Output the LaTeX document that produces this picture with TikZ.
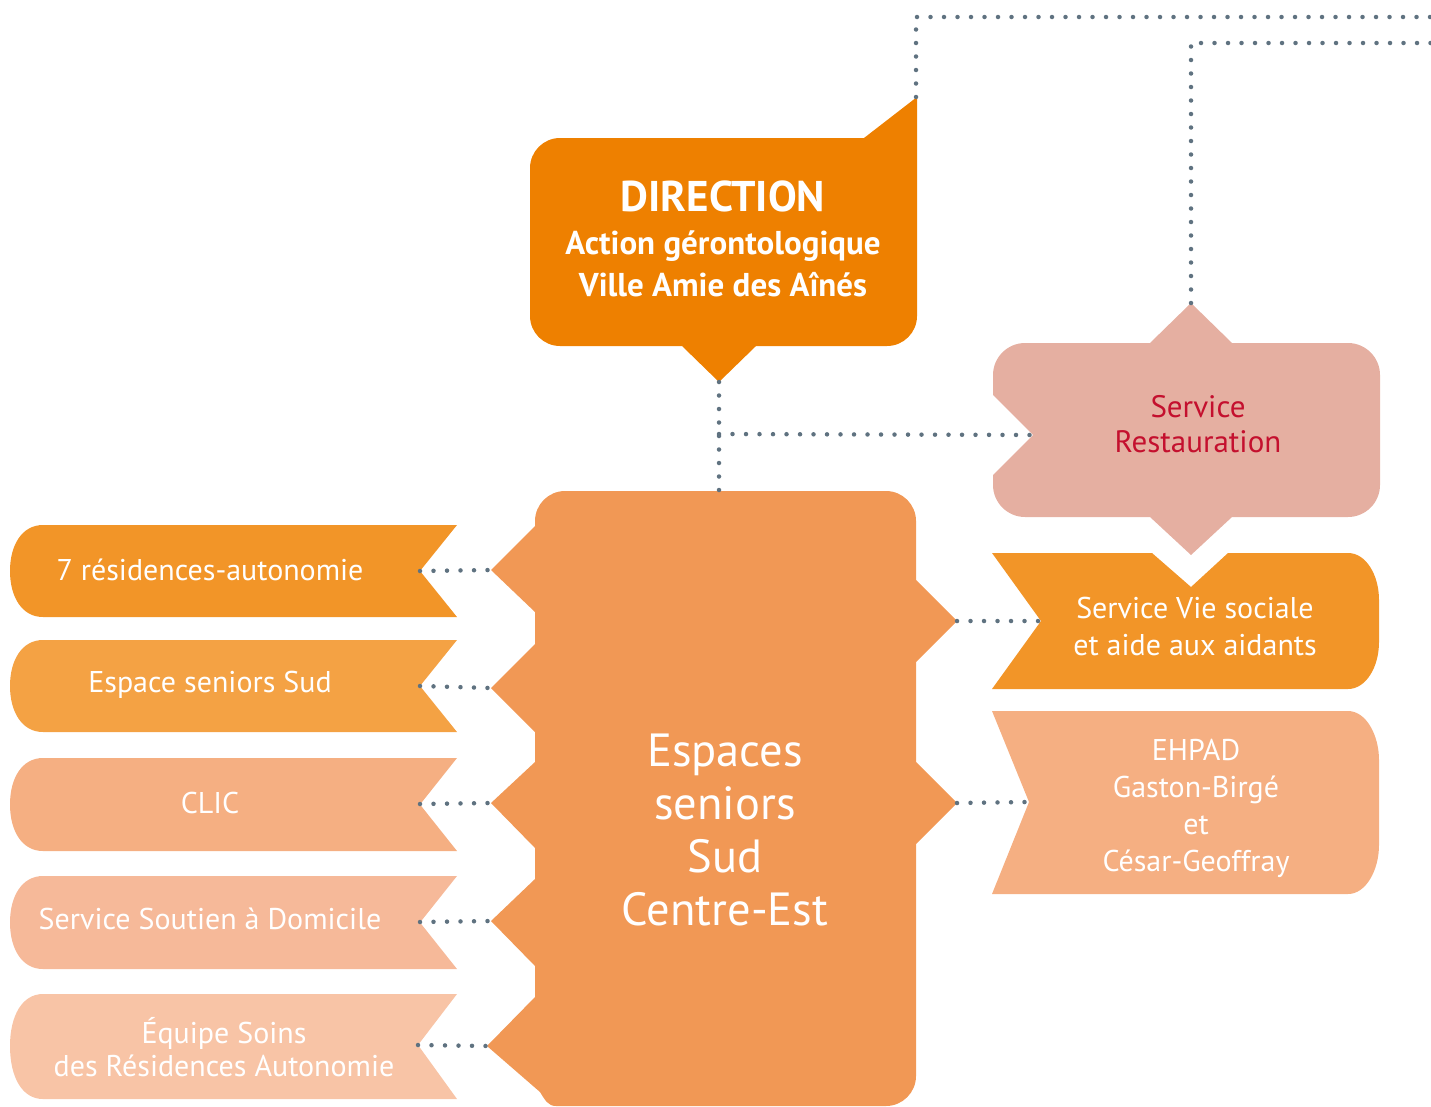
\documentclass[tikz,border=0pt]{standalone}
\usepackage{fontspec}
\setmainfont{PT Sans}
\definecolor{dirorange}{RGB}{238,128,0}
\definecolor{central}{RGB}{241,152,85}
\definecolor{restbox}{RGB}{229,175,161}
\definecolor{resttext}{RGB}{196,16,46}
\definecolor{boxA}{RGB}{242,149,40}
\definecolor{boxB}{RGB}{244,162,68}
\definecolor{boxC}{RGB}{245,175,130}
\definecolor{boxD}{RGB}{246,185,153}
\definecolor{boxE}{RGB}{248,196,166}
\definecolor{dotc}{RGB}{95,114,128}
\tikzset{
  dotline/.style={draw=dotc,line width=4.5pt,line cap=round,dash pattern=on 0pt off 13.5pt},
  wtext/.style={text=white,align=center,inner sep=0pt},
  lefttext/.style={wtext,font=\fontsize{30}{33}\selectfont},
  righttext/.style={wtext,font=\fontsize{30}{37}\selectfont},
}
\newcommand{\leftbox}[3]{% top, bottom, colour
  \fill[#3] (457,#1) -- (420,{(#1+#2)/2}) -- (457,#2) -- (43,#2)
    .. controls (22,#2) and (10,{#2-20}) .. (10,{(#1+#2)/2})
    .. controls (10,{#1+20}) and (22,#1) .. (43,#1) -- cycle;}
\begin{document}
\begin{tikzpicture}[x=1pt,y=-1pt]
\useasboundingbox (0,0) rectangle (1431,1106);
% DIRECTION
\fill[dirorange] (560,138) -- (864,138) -- (917,97) -- (917,316)
  .. controls (917,332.5) and (903.5,346) .. (887,346) -- (756,346) -- (719,382) -- (682,346) -- (560,346)
  .. controls (543.5,346) and (530,332.5) .. (530,316) -- (530,168)
  .. controls (530,151.5) and (543.5,138) .. (560,138) -- cycle;
\node[wtext,font=\bfseries\fontsize{33}{42}\selectfont] (dir) at (723,239)
  {{\fontsize{43}{43}\selectfont DIRECTION}\\[1pt]Action gérontologique\\Ville Amie des Aînés};
% central
\fill[central] (565,491) -- (886,491) .. controls (902.5,491) and (916,504.5) .. (916,521)
  -- (916,580) -- (957,621) -- (916,662) -- (916,762) -- (957,803) -- (916,844) -- (916,1076)
  .. controls (916,1092.5) and (902.5,1106) .. (886,1106) -- (556,1106)
  .. controls (548,1106) and (545,1100) .. (540,1092) -- (487,1046) -- (535,997)
  -- (535,966) -- (491,921) -- (535,879) -- (535,848) -- (491,803) -- (535,762)
  -- (535,732) -- (491,688) -- (535,644) -- (535,612) -- (491,570) -- (535,526)
  -- (535,521) .. controls (535,504.5) and (548.5,491) .. (565,491) -- cycle;
\node[wtext,font=\fontsize{46.5}{53}\selectfont] (cen) at (725,830) {Espaces\\seniors\\Sud\\Centre-Est};
% Vie sociale
\fill[boxA] (992,553) -- (1152,553) -- (1191,587) -- (1228,553) -- (1348,553)
  .. controls (1366,553) and (1379,575) .. (1379,600) -- (1379,642)
  .. controls (1379,667) and (1366,689) .. (1348,689) -- (992,689) -- (1041,621) -- cycle;
\node[righttext] (vie) at (1195,626) {Service Vie sociale\\et aide aux aidants};
% Restauration
\fill[restbox] (1025,343) -- (1150,343) -- (1191,303) -- (1232,343) -- (1348,343)
  .. controls (1365.6,343) and (1380,357.4) .. (1380,375) -- (1380,485)
  .. controls (1380,502.6) and (1365.6,517) .. (1348,517) -- (1232,517) -- (1191,555) -- (1150,517) -- (1025,517)
  .. controls (1007.4,517) and (993,502.6) .. (993,485) -- (993,475) -- (1033,435) -- (993,395) -- (993,375)
  .. controls (993,357.4) and (1007.4,343) .. (1025,343) -- cycle;
\node[wtext,text=resttext,font=\fontsize{31}{35}\selectfont] (rest) at (1198,424) {Service\\Restauration};
% EHPAD
\fill[boxC] (992,711) -- (1348,711) .. controls (1366,711) and (1379,735) .. (1379,760) -- (1379,845)
  .. controls (1379,870) and (1366,894) .. (1348,894) -- (992,894) -- (1029,802) -- cycle;
\node[righttext] (ehpad) at (1196,808) {EHPAD\\Gaston-Birgé\\et\\César-Geoffray};
% left boxes
\leftbox{525}{617}{boxA}
\leftbox{640}{732}{boxB}
\leftbox{758}{851}{boxC}
\leftbox{876}{969}{boxD}
\fill[boxE] (457,994) -- (418,1045) -- (457,1099) -- (43,1099)
  .. controls (22,1099) and (10,1077) .. (10,1046)
  .. controls (10,1016) and (22,994) .. (43,994) -- cycle;
\node[lefttext] (res) at (210,570) {7 résidences-autonomie};
\node[lefttext] (ess) at (210,685) {Espace seniors Sud};
\node[lefttext] (clic) at (210,803) {CLIC};
\node[lefttext] (ssd) at (210,919) {Service Soutien à Domicile};
\node[lefttext] (eq) at (224,1047) {Équipe Soins\\des Résidences Autonomie};
% connector end points
\coordinate (dirS) at (719,382);
\coordinate (dirNE) at (916,97);
\coordinate (topA) at (1431,17);
\coordinate (cenN) at (719,491);
\coordinate (junc) at (719,434);
\coordinate (restW) at (1033,435);
\coordinate (restN) at (1191,303);
\coordinate (topB) at (1431,43);
\coordinate (cL1) at (491,570);
\coordinate (cL2) at (491,688);
\coordinate (cL3) at (491,803);
\coordinate (cL4) at (491,921);
\coordinate (cL5) at (487,1046);
\coordinate (bL1) at (420,571);
\coordinate (bL2) at (420,686);
\coordinate (bL3) at (420,804);
\coordinate (bL4) at (420,922);
\coordinate (bL5) at (418,1045);
\coordinate (cR1) at (957,621);
\coordinate (cR2) at (957,803);
\coordinate (vieW) at (1041,621);
\coordinate (ehpW) at (1029,802);
% connectors
\draw[dotline] (dirS) -- (cenN);
\draw[dotline] (junc) -- (restW);
\draw[dotline] (dirNE) |- (topA);
\draw[dotline] (restN) |- (topB);
\draw[dotline] (bL1) -- (cL1);
\draw[dotline] (bL2) -- (cL2);
\draw[dotline] (bL3) -- (cL3);
\draw[dotline] (bL4) -- (cL4);
\draw[dotline] (bL5) -- (cL5);
\draw[dotline] (cR1) -- (vieW);
\draw[dotline] (cR2) -- (ehpW);
\end{tikzpicture}
\end{document}
